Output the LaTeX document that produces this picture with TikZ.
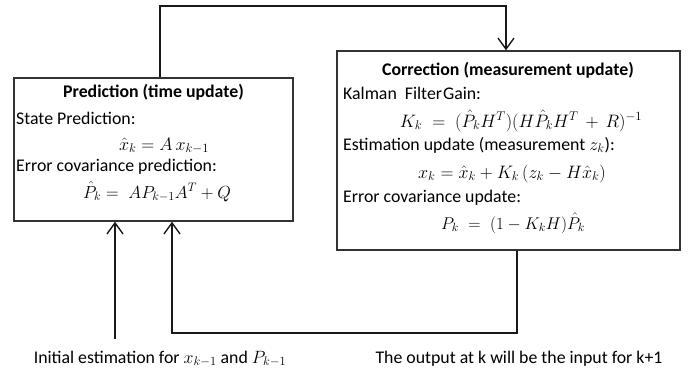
\RequirePackage{fix-cm}
\documentclass[tikz,border=0pt]{standalone}
\usepackage{amsmath}
\usepackage{fontspec}
\setmainfont{Carlito}
\usetikzlibrary{arrows.meta}
\begin{document}
\begin{tikzpicture}[x=1pt,y=-1pt,
  box/.style={draw=black!80,line width=1.4pt,inner sep=0pt},
  title/.style={font=\fontsize{17.8}{20}\selectfont\bfseries,inner sep=0pt,anchor=base},
  txt/.style={font=\fontsize{17.8}{20}\selectfont,inner sep=0pt,anchor=base west},
  eq/.style={font=\fontsize{#1}{#1}\selectfont,inner sep=0pt,anchor=base},
  lbl/.style={font=\fontsize{17.8}{20}\selectfont,inner sep=0pt,anchor=base},
  link/.style={line width=1.4pt,draw=black!90,-{Straight Barb[length=11pt,width=16pt,line width=1.4pt]}}]
\useasboundingbox (0,0) rectangle (696,372);

% the two stages of the filter
\node[box,minimum width=279pt,minimum height=143pt] (pred) at (153.5,149.5) {};
\node[box,minimum width=343pt,minimum height=199pt] (corr) at (508.5,150.5) {};

% prediction stage
\node[title] (predt) at (153.5,97) {Prediction (time update)};
\node[txt] (sp) at (16,124) {State Prediction:};
\node[eq=18] (speq) at (164,150) {$\hat{x}_k = A\,x_{k-1}$};
\node[txt] (ecp) at (16,171) {Error covariance prediction:};
\node[eq=17.5] (ecpeq) at (157,198) {$\hat{P}_k = \; A P_{k-1} A^{T} + Q$};

% correction stage
\node[title] (corrt) at (508,75) {Correction (measurement update)};
\node[txt] (kg) at (343,99) {Kalman\ \ Filter\kern1ptGain:};
\node[eq=18] (kgeq) at (521,127) {$K_k \;=\; (\hat{P}_k H^{T})(H\hat{P}_k H^{T} \,+\, R)^{-1}$};
\node[txt] (eu) at (343,150) {Estimation update (measurement $z_k$):};
\node[eq=18] (eueq) at (512,178) {$x_k = \hat{x}_k + K_k\,(z_k - H\hat{x}_k)$};
\node[txt] (ecu) at (343,202) {Error covariance update:};
\node[eq=17] (ecueq) at (513,229) {$P_k \;=\; (1 - K_k H)\hat{P}_k$};

% loop from prediction to correction
\coordinate (t1) at (160,6);
\coordinate (t2) at (506,6);
\draw[link] (pred.north -| t1) -- (t1) -- (t2) -- (corr.north -| t2);

% initial values entering the prediction
\coordinate (i0) at (115,339);
\draw[link] (i0) -- (pred.south -| i0);

% feedback from correction to prediction
\coordinate (f1) at (517,333);
\coordinate (f2) at (172,333);
\draw[link] (corr.south -| f1) -- (f1) -- (f2) -- (pred.south -| f2);

% captions
\node[lbl] (initl) at (160,363) {Initial estimation for $x_{k-1}$ and $P_{k-1}$};
\node[lbl] (outl) at (519,363) {The output at k will be the input for k+1};
\end{tikzpicture}
\end{document}
